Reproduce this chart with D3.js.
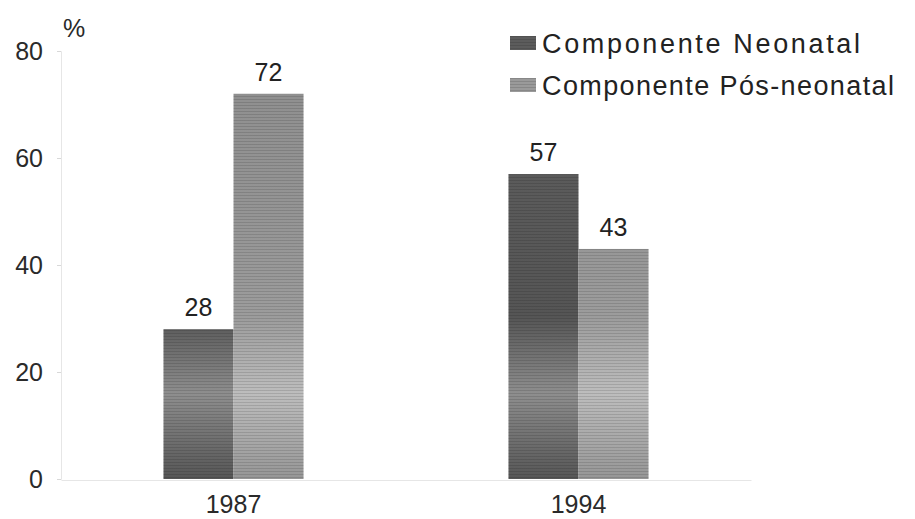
<!DOCTYPE html>
<html>
<head>
<meta charset="utf-8">
<script src="https://cdn.jsdelivr.net/npm/d3@7"></script>
<style>
  html, body { margin: 0; padding: 0; background: #fff; }
  svg { display: block; font-family: "Liberation Sans", Arial, sans-serif; }
</style>
</head>
<body>
<svg id="chart" width="915" height="519"></svg>
<script>
// Infant mortality components (%), by year
const years = ["1987", "1994"];
const seriesNames = ["Componente Neonatal", "Componente Pós-neonatal"];
const neonatal = [28, 57];
const posNeonatal = [72, 43];
const yTicks = [0, 20, 40, 60, 80];

const svg = d3.select("#chart");
const plot = { left: 61, right: 751, top: 51, bottom: 479 };

const x = d3.scaleBand().domain(years).range([plot.left, plot.right])
  .paddingInner(0.594).paddingOuter(0.297);
const xs = d3.scaleBand().domain(seriesNames).range([0, x.bandwidth()]);
const y = d3.scaleLinear().domain([0, 80]).range([plot.bottom, plot.top]);

// Fills: vertical shading in page space plus fine horizontal hatching
const defs = svg.append("defs");
function shade(id, stops) {
  const g = defs.append("linearGradient").attr("id", id)
    .attr("gradientUnits", "userSpaceOnUse")
    .attr("x1", 0).attr("x2", 0).attr("y1", plot.top).attr("y2", plot.bottom);
  stops.forEach(([o, c]) => g.append("stop").attr("offset", o).attr("stop-color", c));
}
shade("g-neo", [[0, "#5e5e5e"], [0.35, "#5a5a5a"], [0.62, "#555555"], [0.8, "#8e8e8e"], [0.92, "#6c6c6c"], [1, "#565656"]]);
shade("g-pos", [[0, "#8e8e8e"], [0.35, "#949494"], [0.62, "#9c9c9c"], [0.8, "#bdbdbd"], [0.92, "#a6a6a6"], [1, "#969696"]]);

const hatch = defs.append("pattern").attr("id", "hatch")
  .attr("patternUnits", "userSpaceOnUse").attr("width", 6).attr("height", 3);
hatch.append("rect").attr("width", 6).attr("height", 1).attr("fill", "#000").attr("opacity", 0.12);

const fills = { "Componente Neonatal": "url(#g-neo)", "Componente Pós-neonatal": "url(#g-pos)" };

// Axes (very faint, like a scanned print)
const yAxis = svg.append("g").attr("transform", `translate(${plot.left},0)`)
  .call(d3.axisLeft(y).tickValues(yTicks).tickSize(4).tickPadding(14));
yAxis.select(".domain").attr("stroke", "#e6e6e6");
yAxis.selectAll(".tick line").attr("stroke", "#d8d8d8");
yAxis.selectAll(".tick text").attr("font-size", 25).attr("fill", "#2a2a2a")
  .attr("font-family", "'Liberation Sans', Arial, sans-serif");

svg.append("text").attr("x", 63).attr("y", 37).attr("font-size", 25)
  .attr("fill", "#2a2a2a").text("%");

const xAxis = svg.append("g").attr("transform", `translate(0,${plot.bottom + 1})`)
  .call(d3.axisBottom(x).tickSize(0).tickPadding(15));
xAxis.select(".domain").attr("stroke", "#e6e6e6");
xAxis.selectAll(".tick text").attr("font-size", 25).attr("fill", "#2a2a2a")
  .attr("font-family", "'Liberation Sans', Arial, sans-serif");

// Bars
const rows = years.map((yr, i) => ({
  year: yr,
  values: [
    { name: seriesNames[0], value: neonatal[i] },
    { name: seriesNames[1], value: posNeonatal[i] }
  ]
}));

const groups = svg.selectAll(".grp").data(rows).enter().append("g")
  .attr("class", "grp").attr("transform", d => `translate(${x(d.year)},0)`);

groups.selectAll(".bar").data(d => d.values).enter().append("rect")
  .attr("x", d => xs(d.name)).attr("width", xs.bandwidth())
  .attr("y", d => y(d.value)).attr("height", d => y(0) - y(d.value))
  .attr("fill", d => fills[d.name]);

groups.selectAll(".hat").data(d => d.values).enter().append("rect")
  .attr("x", d => xs(d.name)).attr("width", xs.bandwidth())
  .attr("y", d => y(d.value)).attr("height", d => y(0) - y(d.value))
  .attr("fill", "url(#hatch)");

groups.selectAll(".lbl").data(d => d.values).enter().append("text")
  .attr("x", d => xs(d.name) + xs.bandwidth() / 2)
  .attr("y", d => y(d.value) - 13)
  .attr("text-anchor", "middle").attr("font-size", 25).attr("fill", "#222")
  .text(d => d.value);

// Legend
const legend = svg.append("g").attr("transform", "translate(510,0)");
const legendWidths = [318, 352];
seriesNames.forEach((name, i) => {
  const cy = 43 + i * 42;
  legend.append("rect").attr("x", 0).attr("y", cy - 7).attr("width", 26).attr("height", 14)
    .attr("fill", i === 0 ? "#5c5c5c" : "#9a9a9a");
  legend.append("rect").attr("x", 0).attr("y", cy - 7).attr("width", 26).attr("height", 14)
    .attr("fill", "url(#hatch)");
  legend.append("text").attr("x", 32).attr("y", cy + 10).attr("font-size", 27)
    .attr("textLength", legendWidths[i]).attr("lengthAdjust", "spacing")
    .attr("fill", "#222").text(name);
});
</script>
</body>
</html>
